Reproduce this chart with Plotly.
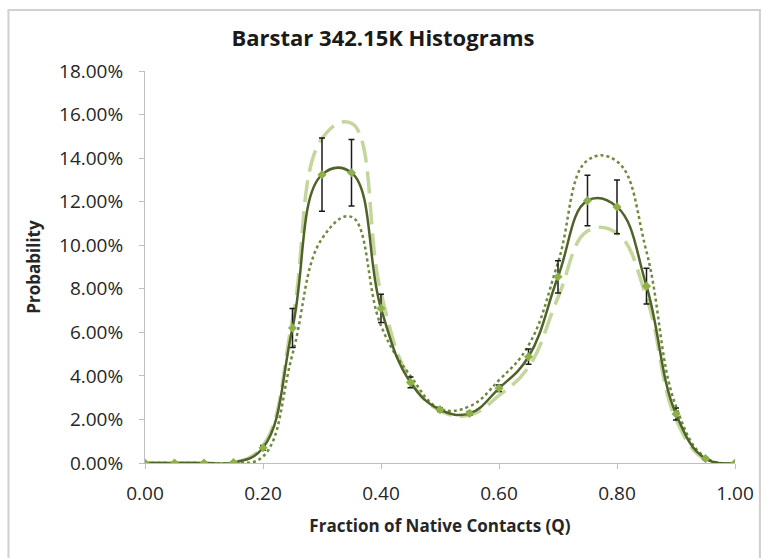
import numpy as np
import plotly.graph_objects as go

# Fraction of native contacts (bin centres)
q = [0.00, 0.05, 0.10, 0.15, 0.20, 0.25, 0.30, 0.35, 0.40, 0.45, 0.50,
     0.55, 0.60, 0.65, 0.70, 0.75, 0.80, 0.85, 0.90, 0.95, 1.00]

# Probabilities in percent
mean_pct = [0.0, 0.0, 0.0, 0.02, 0.7, 6.2, 13.24, 13.33, 7.1, 3.7, 2.45,
            2.28, 3.43, 4.88, 8.55, 12.05, 11.76, 8.12, 2.25, 0.2, 0.0]
err_pct = [0.0, 0.0, 0.0, 0.0, 0.1, 0.9, 1.68, 1.53, 0.65, 0.25, 0.08,
           0.08, 0.15, 0.35, 0.74, 1.16, 1.23, 0.82, 0.27, 0.05, 0.0]
run_a_pct = [0.0, 0.0, 0.0, 0.02, 0.8, 6.6, 14.9, 15.6, 7.8, 3.8, 2.4,
             2.2, 3.1, 4.4, 7.6, 10.65, 10.55, 7.6, 2.0, 0.15, 0.0]
run_b_pct = [0.0, 0.0, 0.0, 0.0, 0.3, 5.0, 10.3, 11.3, 6.3, 4.0, 2.5,
             2.6, 3.8, 5.4, 9.2, 13.9, 13.85, 9.7, 2.6, 0.25, 0.0]

y_ticks = [0.00, 0.02, 0.04, 0.06, 0.08, 0.10, 0.12, 0.14, 0.16, 0.18]
x_ticks = [0.0, 0.2, 0.4, 0.6, 0.8, 1.0]

to_frac = lambda v: np.asarray(v) / 100.0

FONT = "Open Sans"
SMOOTH = 1.2
fig = go.Figure()

fig.add_trace(go.Scatter(
    x=q, y=to_frac(run_a_pct), mode="lines",
    line=dict(color="#C3D69B", width=3.5, dash="22px,9px", shape="spline", smoothing=SMOOTH),
    showlegend=False))

fig.add_trace(go.Scatter(
    x=q, y=to_frac(run_b_pct), mode="lines",
    line=dict(color="#6E8B3D", width=2.5, dash="dot", shape="spline", smoothing=SMOOTH),
    showlegend=False))

fig.add_trace(go.Scatter(
    x=q, y=to_frac(mean_pct), mode="lines+markers",
    line=dict(color="#4F6228", width=2.5, shape="spline", smoothing=SMOOTH),
    marker=dict(symbol="diamond", size=7, color="#8DB048"),
    error_y=dict(type="data", array=to_frac(err_pct), color="#1a1a1a",
                 thickness=1.5, width=3),
    showlegend=False))

fig.update_layout(
    width=766, height=558,
    margin=dict(l=145, r=29, t=71, b=95),
    paper_bgcolor="white", plot_bgcolor="white",
    font=dict(family=FONT, color="#262626"),
    title=dict(text="<b>Barstar 342.15K Histograms</b>", x=0.5, xanchor="center",
               y=1 - 38 / 558, yanchor="middle",
               font=dict(family=FONT, size=22, color="#1a1a1a")),
    xaxis=dict(range=[0, 1], tickvals=x_ticks, tickformat=".2f",
               showgrid=False, zeroline=False, showline=True,
               linecolor="#BFBFBF", linewidth=1,
               ticks="outside", ticklen=5, tickcolor="#BFBFBF",
               ticklabelstandoff=8,
               tickfont=dict(size=19, color="#262626"),
               title=dict(text="<b>Fraction of Native Contacts (Q)</b>",
                          font=dict(size=17, color="#262626"), standoff=15)),
    yaxis=dict(range=[0, 0.18], tickvals=y_ticks, tickformat=".2%",
               showgrid=False, zeroline=False, showline=True,
               linecolor="#BFBFBF", linewidth=1,
               ticks="outside", ticklen=5, tickcolor="#BFBFBF",
               ticklabelstandoff=12,
               tickfont=dict(size=19, color="#262626"),
               title=dict(text="<b>Probability</b>",
                          font=dict(size=17, color="#262626"), standoff=14)),
)

# chart-area frame
fig.add_shape(type="rect", xref="paper", yref="paper",
              x0=(8 - 145) / 592, x1=(762 - 145) / 592,
              y0=(463 - 566) / 392, y1=(463 - 10) / 392,
              line=dict(color="#D0D0D0", width=2), fillcolor="rgba(0,0,0,0)",
              layer="below")

fig.write_html("out.html")
